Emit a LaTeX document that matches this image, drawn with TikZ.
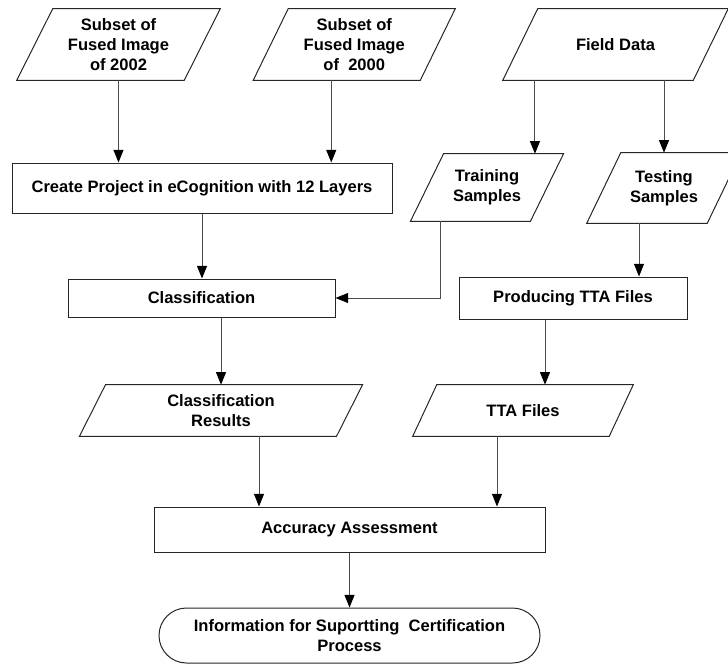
\documentclass[tikz,border=0pt]{standalone}
\usepackage{fontspec}
\setmainfont{Liberation Sans}
\usetikzlibrary{arrows.meta,shapes.misc,calc}
\newcommand{\pgram}[2]{\draw[bord] ([xshift=#2]#1.north west) -- ([xshift=#2]#1.north east) -- ([xshift=-#2]#1.south east) -- ([xshift=-#2]#1.south west) -- cycle;}
\begin{document}
\begin{tikzpicture}[x=0.75pt,y=-0.75pt,
 every node/.style={font=\fontsize{12.4}{15}\selectfont\bfseries, align=center, inner sep=0pt},
 box/.style={draw=black!85, line width=0.75pt, rectangle},
 pg/.style={rectangle},
 term/.style={draw=black!85, line width=0.75pt, rounded rectangle},
 bord/.style={draw=black!85, line width=0.75pt},
 arr/.style={draw=black!70, line width=0.75pt, -{Triangle[length=9.5pt,width=7.5pt,color=black]}}]
\useasboundingbox (0,0) rectangle (728,664);
% parallelograms (inner rectangles)
\node[pg, minimum width=125.25pt, minimum height=53.25pt] (p1) at (118.5,44.5) {Subset of\\Fused Image\\of 2002};
\node[pg, minimum width=124.9pt, minimum height=53.25pt] (p2) at (354.25,44.5) {Subset of\\Fused Image\\of~ 2000};
\node[pg, minimum width=142.5pt, minimum height=53.25pt] (field) at (615.5,44.5) {Field Data};
\node[pg, minimum width=89.6pt, minimum height=50.25pt] (train) at (487,187.5) {Training\\Samples};
\node[pg, minimum width=90pt, minimum height=52.5pt] (test) at (664,188) {Testing\\Samples};
\node[pg, minimum width=192.4pt, minimum height=38.25pt] (cres) at (221,410.5) {Classification\\Results};
\node[pg, minimum width=147pt, minimum height=38.25pt] (tta) at (523,410.5) {TTA Files};
\pgram{p1}{13.5pt}
\pgram{p2}{13.1pt}
\pgram{field}{13.1pt}
\pgram{train}{12.4pt}
\pgram{test}{12.75pt}
\pgram{cres}{9.75pt}
\pgram{tta}{9pt}
% boxes
\node[box, minimum width=285pt, minimum height=37.5pt] (create) at (202,188) {Create Project in eCognition with 12 Layers};
\node[box, minimum width=200.25pt, minimum height=28.5pt] (classif) at (201.5,298) {Classification};
\node[box, minimum width=171pt, minimum height=31.5pt] (produce) at (573,298) {Producing TTA Files};
\node[box, minimum width=293.25pt, minimum height=33.75pt] (acc) at (349.5,529.5) {Accuracy Assessment};
\node[term, minimum width=285.75pt, minimum height=41.25pt] (info) at (349.5,635.5) {Information for Suportting~ Certification\\Process};
% connectors
\draw[arr] (p1.south) -- (p1.south |- create.north);
\draw[arr] ([xshift=-17.25pt]p2.south) -- ([xshift=-17.25pt]p2.south |- create.north);
\draw[arr] ([xshift=-60.4pt]field.south) -- ([xshift=-60.4pt]field.south |- train.north);
\draw[arr] (test.north |- field.south) -- (test.north);
\draw[arr] (create.south) -- (create.south |- classif.north);
\draw[arr] ([xshift=-35.25pt]train.south) |- (classif.east);
\draw[arr] (cres.north |- classif.south) -- (cres.north);
\draw[arr] ([xshift=-18.75pt]test.south) -- ([xshift=-18.75pt]test.south |- produce.north);
\draw[arr] ([xshift=-21pt]produce.south) -- ([xshift=-21pt]produce.south |- tta.north);
\draw[arr] ([xshift=28.5pt]cres.south) -- ([xshift=28.5pt]cres.south |- acc.north);
\draw[arr] ([xshift=-19.5pt]tta.south) -- ([xshift=-19.5pt]tta.south |- acc.north);
\draw[arr] (acc.south) -- (info.north);
\end{tikzpicture}
\end{document}
